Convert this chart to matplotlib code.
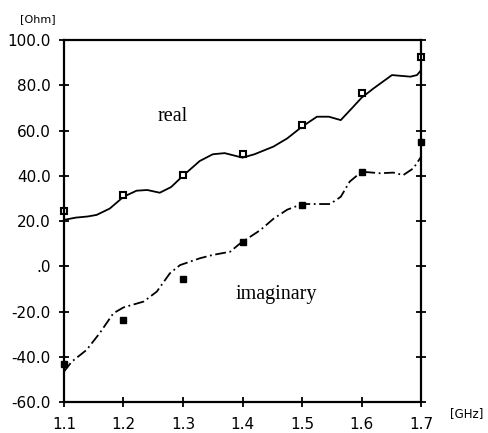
import matplotlib.pyplot as plt

# frecuencia de las mediciones
freq = [1.1, 1.2, 1.3, 1.4, 1.5, 1.6, 1.7]
real_meas = [24.4, 31.5, 40.3, 49.6, 62.4, 76.6, 92.5]
imag_meas = [-43.2, -23.8, -5.6, 10.7, 27.1, 41.7, 54.9]

# curvas calculadas
real_x = [1.100, 1.120, 1.140, 1.155, 1.177, 1.200, 1.222, 1.240, 1.261, 1.280,
          1.300, 1.328, 1.350, 1.370, 1.385, 1.400, 1.420, 1.452, 1.475, 1.500,
          1.525, 1.545, 1.565, 1.586, 1.600, 1.620, 1.651, 1.682, 1.693, 1.700]
real_y = [20.5, 21.5, 22.0, 22.7, 25.5, 30.7, 33.4, 33.7, 32.5, 35.0,
          40.0, 46.5, 49.5, 50.0, 49.0, 48.0, 49.5, 52.9, 56.5, 61.7,
          66.1, 66.1, 64.6, 70.5, 74.5, 78.6, 84.5, 83.8, 84.5, 86.7]
imag_x = [1.100, 1.113, 1.138, 1.160, 1.183, 1.200, 1.234, 1.256, 1.278, 1.295,
          1.328, 1.350, 1.379, 1.396, 1.430, 1.452, 1.475, 1.500, 1.525, 1.547,
          1.565, 1.580, 1.600, 1.631, 1.653, 1.670, 1.687, 1.700]
imag_y = [-46.6, -42.2, -37.0, -29.6, -20.8, -18.2, -15.6, -11.2, -3.1, 0.5,
          3.5, 5.0, 6.4, 10.1, 16.0, 21.0, 25.0, 27.5, 27.5, 27.5,
          30.7, 37.4, 41.8, 41.1, 41.4, 40.3, 43.3, 48.4]

yticks = [100, 80, 60, 40, 20, 0, -20, -40, -60]
ytick_labels = ["100.0", "80.0", "60.0", "40.0", "20.0", ".0", "-20.0", "-40.0", "-60.0"]

fig = plt.figure(figsize=(4.88, 4.33), dpi=100)
ax = fig.add_axes([0.131, 0.0716, 0.732, 0.836])

ax.plot(real_x, real_y, color="black", lw=1.3)
ax.plot(imag_x, imag_y, color="black", lw=1.3, linestyle=(0, (6, 2, 1, 2)))
ax.plot(freq, real_meas, "s", color="black", markerfacecolor="white",
        markersize=5, markeredgewidth=1.5, clip_on=False)
ax.plot(freq, imag_meas, "s", color="black", markersize=4.5, clip_on=False)

ax.text(1.283, 66, "real", family="Liberation Serif", fontsize=14.5, ha="center", va="center")
ax.text(1.456, -12.7, "imaginary", family="Liberation Serif", fontsize=14.5, ha="center", va="center")

ax.set_xlim(1.1, 1.7)
ax.set_ylim(-60, 100)
ax.set_xticks(freq)
ax.set_xticklabels(["1.1", "1.2", "1.3", "1.4", "1.5", "1.6", "1.7"], fontsize=11)
ax.set_yticks(yticks)
ax.set_yticklabels(ytick_labels, fontsize=11)
ax.tick_params(direction="inout", length=7, width=1.3, right=True, top=False)
ax.tick_params(axis="y", pad=6)
ax.tick_params(axis="x", pad=7)

for s in ax.spines.values():
    s.set_linewidth(1.6)

fig.text(38 / 488, 1 - 19 / 433, "[Ohm]", fontsize=8, ha="center", va="center")
fig.text(467 / 488, 1 - 414 / 433, "[GHz]", fontsize=8.5, ha="center", va="center")

fig.savefig("out.png", dpi=100)
